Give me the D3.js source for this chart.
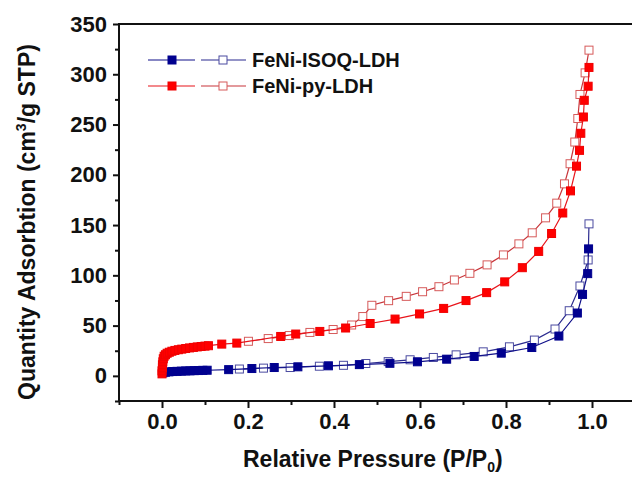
<!DOCTYPE html>
<html>
<head>
<meta charset="utf-8">
<script src="https://cdn.jsdelivr.net/npm/d3@7"></script>
<style>
  body { margin: 0; background: #fff; }
  text { font-family: Arial, "Liberation Sans", sans-serif; font-weight: bold; fill: #111; }
</style>
</head>
<body>
<svg width="632" height="477"></svg>
<script>
// isotherm data: [P/P0, quantity]
const isoqAds = [
  [0.002, 3], [0.008, 3.6], [0.016, 4], [0.025, 4.3], [0.035, 4.5], [0.045, 4.7],
  [0.055, 4.9], [0.065, 5], [0.075, 5.2], [0.085, 5.3], [0.095, 5.5], [0.105, 5.6],
  [0.155, 6.2], [0.209, 7.3], [0.261, 8.3], [0.316, 9], [0.387, 10], [0.459, 11.2],
  [0.530, 12.5], [0.594, 14], [0.662, 16.6], [0.726, 19.3], [0.789, 22.6], [0.860, 28.2],
  [0.923, 39.6], [0.966, 62.5], [0.978, 81], [0.990, 101.7], [0.992, 126.3]
];
const isoqDes = [
  [0.180, 6.8], [0.236, 7.7], [0.298, 8.3], [0.366, 9.6], [0.422, 10.5], [0.474, 12.3],
  [0.526, 14.2], [0.577, 16], [0.631, 18.3], [0.684, 20.9], [0.747, 23.9], [0.808, 28.9],
  [0.866, 35.6], [0.914, 46.6], [0.947, 64.8], [0.972, 89.4], [0.991, 115.3], [0.993, 151.2]
];
const pyAds = [
  [0.000, 2], [0.000, 5], [0.001, 8], [0.001, 11], [0.002, 14], [0.003, 17], [0.005, 19.5],
  [0.008, 21], [0.012, 22.5], [0.017, 23.5], [0.023, 24.5], [0.030, 25.3], [0.038, 26],
  [0.046, 26.6], [0.055, 27.2], [0.064, 27.8], [0.073, 28.3], [0.082, 28.8], [0.091, 29.2],
  [0.100, 29.6], [0.108, 30],
  [0.139, 31.6], [0.174, 32.6], [0.276, 39.2], [0.311, 41.6], [0.367, 44.2], [0.427, 47.6],
  [0.484, 52.1], [0.542, 56.5], [0.599, 61.6], [0.655, 67.1], [0.707, 74.9], [0.755, 82.8],
  [0.797, 93.5], [0.838, 107.6], [0.876, 123.8], [0.906, 141.6], [0.932, 162], [0.950, 184],
  [0.964, 208.6], [0.971, 224.3], [0.974, 241.3], [0.980, 257.5], [0.982, 274.1],
  [0.991, 288.1], [0.993, 306.8]
];
const pyDes = [
  [0.201, 34.4], [0.247, 37.1], [0.296, 40.1], [0.344, 43.2], [0.398, 46.1], [0.441, 50.6],
  [0.467, 59], [0.488, 70.2], [0.527, 74.8], [0.568, 79.1], [0.606, 83.7], [0.644, 88.7],
  [0.680, 95.4], [0.716, 102], [0.756, 110.4], [0.794, 120.3], [0.830, 131.3], [0.861, 142.3],
  [0.892, 157.2], [0.918, 171.8], [0.936, 191], [0.949, 211], [0.960, 232.6], [0.967, 256],
  [0.972, 279.9], [0.984, 301.4], [0.993, 324]
];

const seriesNames = ['FeNi-ISOQ-LDH', 'FeNi-py-LDH'];
const xTicks = [0, 0.2, 0.4, 0.6, 0.8, 1.0];
const xMinor = [-0.1, 0.1, 0.3, 0.5, 0.7, 0.9, 1.1];
const yTicks = [0, 50, 100, 150, 200, 250, 300, 350];
const yMinor = [-25, 25, 75, 125, 175, 225, 275, 325];

const svg = d3.select('svg');

const x = d3.scaleLinear().domain([-0.1, 1.1]).range([119, 635]);
const y = d3.scaleLinear().domain([-25, 350]).range([401, 24]);

// minor ticks
svg.append('g')
  .attr('transform', 'translate(0,401)')
  .call(d3.axisBottom(x).tickValues(xMinor).tickSize(4).tickFormat(''))
  .call(g => g.select('.domain').remove());
svg.append('g')
  .attr('transform', 'translate(119,0)')
  .call(d3.axisLeft(y).tickValues(yMinor).tickSize(4).tickFormat(''))
  .call(g => g.select('.domain').remove());

// major ticks + labels
const xAxis = svg.append('g')
  .attr('transform', 'translate(0,401)')
  .call(d3.axisBottom(x).tickValues(xTicks).tickSize(7).tickPadding(5).tickFormat(d3.format('.1f')))
  .call(g => g.select('.domain').remove());
const yAxis = svg.append('g')
  .attr('transform', 'translate(119,0)')
  .call(d3.axisLeft(y).tickValues(yTicks).tickSize(6).tickPadding(6))
  .call(g => g.select('.domain').remove());

svg.selectAll('.tick line').attr('stroke', '#111').attr('stroke-width', 2);
svg.selectAll('.tick text').attr('font-size', 22).attr('fill', '#111');

// frame
const frame = svg.append('g').attr('stroke', '#111').attr('stroke-width', 2).attr('fill', 'none');
frame.append('path').attr('d', `M${x(1.1)},${y(350)}H${x(-0.1)}V${y(-25)}H${x(1.1)}V${y(350)}`);

const line = d3.line().x(d => x(d[0])).y(d => y(d[1]));

const styles = [
  { data: isoqDes, line: '#2b2b8f', stroke: '#4a4aa0', fill: '#fff' },
  { data: isoqAds, line: '#10108a', stroke: '#00008f', fill: '#00008f' },
  { data: pyDes, line: '#c8353a', stroke: '#d65a5a', fill: '#fff' },
  { data: pyAds, line: '#e8141b', stroke: '#f00000', fill: '#ff0000' }
];

const ms = 8;
styles.forEach(s => {
  svg.append('path')
    .attr('d', line(s.data))
    .attr('fill', 'none')
    .attr('stroke', s.line)
    .attr('stroke-width', 1.2);
  svg.append('g').selectAll('rect')
    .data(s.data)
    .enter().append('rect')
      .attr('x', d => x(d[0]) - ms / 2)
      .attr('y', d => y(d[1]) - ms / 2)
      .attr('width', ms)
      .attr('height', ms)
      .attr('fill', s.fill)
      .attr('stroke', s.stroke)
      .attr('stroke-width', 1);
});

// legend
const legend = svg.append('g');
seriesNames.forEach((name, i) => {
  const ly = 60 + i * 26;
  const filled = styles[i * 2 + 1], open = styles[i * 2];
  legend.append('line').attr('x1', 148).attr('x2', 195).attr('y1', ly).attr('y2', ly)
    .attr('stroke', filled.line).attr('stroke-width', 1.2);
  legend.append('rect').attr('x', 172 - ms / 2).attr('y', ly - ms / 2).attr('width', ms).attr('height', ms)
    .attr('fill', filled.fill).attr('stroke', filled.stroke);
  legend.append('line').attr('x1', 201).attr('x2', 246).attr('y1', ly).attr('y2', ly)
    .attr('stroke', open.line).attr('stroke-width', 1.2);
  legend.append('rect').attr('x', 223 - ms / 2).attr('y', ly - ms / 2).attr('width', ms).attr('height', ms)
    .attr('fill', open.fill).attr('stroke', open.stroke);
  legend.append('text').attr('x', 252).attr('y', ly).attr('dy', '0.36em')
    .attr('font-size', 20).text(name);
});

// axis titles
const xt = svg.append('text').attr('x', 243).attr('y', 467).attr('font-size', 23);
xt.append('tspan').text('Relative Pressure (P/P');
xt.append('tspan').attr('font-size', 14).attr('dy', 5).text('0');
xt.append('tspan').attr('dy', -5).text(')');

const yt = svg.append('text')
  .attr('transform', 'translate(35,222) rotate(-90)')
  .attr('text-anchor', 'middle')
  .attr('font-size', 23);
yt.append('tspan').text('Quantity Adsorbtion (cm');
yt.append('tspan').attr('font-size', 14).attr('dy', -9).text('3');
yt.append('tspan').attr('dy', 9).text('/g STP)');
</script>
</body>
</html>
